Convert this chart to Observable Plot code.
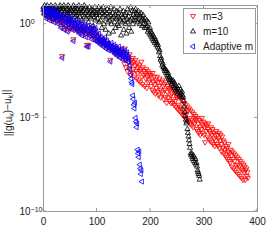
<!DOCTYPE html>
<html><head><meta charset="utf-8">
<script src="https://cdn.jsdelivr.net/npm/d3@7"></script>
<script src="https://cdn.jsdelivr.net/npm/@observablehq/plot@0.6"></script>
<style>body{margin:0;background:#fff} svg{display:block}</style>
</head><body><div id="chart"></div>
<script>
// log10 of ||g(u_k) - u_k|| per iteration k = 0,1,2,...
const m3Log = [
0.8,0.7,0.6,0.9,0.5,0.4,0.7,0.8,0.5,0.8,0.7,0.4,0.3,0.6,0.7,0.5,0.5,0.2,0.6,0.6,0.2,0.5,0.3,0.7,0.3,0.4,0.5,0.2,0.1,0.3,
0.2,0.4,0.2,-0.1,0.3,-1.7,0.1,0.1,0.4,-0.2,0.2,0.0,-0.2,0.3,0.1,-0.3,0.1,0.2,0.0,-0.3,0.1,0.3,-0.2,-0.1,-0.2,0.0,-0.8,0.1,-0.3,-0.1,
-0.2,0.1,-0.2,-0.3,0.0,-0.3,-0.2,-0.4,-0.1,-0.3,-0.2,0.0,-0.5,-0.3,-0.3,-0.2,-0.4,-0.4,-0.1,-0.3,-0.6,-1.1,-0.4,-0.2,-1.1,-0.5,-0.5,-0.3,-0.6,-0.4,-0.7,-0.2,-0.5,-0.5,-0.4,-0.8,-0.6,-0.3,-0.8,-0.5,
-0.7,-0.8,-0.8,-0.9,-0.6,-0.9,-0.8,-1.0,-0.8,-1.0,-0.9,-0.9,-1.1,-1.0,-1.0,-0.8,-1.1,-1.2,-1.0,-1.0,
-1.1,-1.1,-1.3,-1.2,-1.2,-1.9,-1.3,-1.1,-1.3,-1.3,-1.4,-1.4,-1.2,-1.5,-1.5,-1.3,-1.4,-1.4,-1.6,-1.5,
-1.6,-1.3,-1.5,-1.7,-1.5,-1.6,-1.6,-1.4,-1.7,-1.8,
-1.5,-2.1,-1.3,-1.9,-2.3,-1.6,-1.8,-2.5,-1.7,-2.0,-2.4,-1.6,-2.2,-2.7,-1.9,-2.1,-2.6,-1.8,-2.4,-2.0,
-2.8,-2.2,-1.9,-2.5,-2.9,-2.1,-2.6,-2.3,-3.0,-2.2,-2.5,-3.1,-2.4,-2.0,-2.8,-3.2,-2.3,-2.7,-2.5,-3.3,
-2.6,-2.9,-2.4,-3.4,-2.8,-2.5,-3.1,-2.7,-3.0,-2.6,
-2.7,-3.3,-2.9,-3.5,-2.6,-3.1,-3.6,-2.8,-3.2,-3.7,-3.0,-3.4,-2.8,-3.6,-3.1,-3.8,-3.3,-2.9,-3.5,-3.9,
-3.1,-3.6,-3.0,-3.7,-3.3,-4.0,-3.2,-3.5,-3.9,-3.1,-4.2,-3.6,-3.3,-3.9,-3.4,-4.1,-3.5,-3.8,-4.2,-3.4,
-3.7,-4.2,-3.5,-4.0,-4.3,-3.6,-4.1,-4.4,-3.8,-3.9,-4.5,-3.8,-4.3,-4.6,-3.9,-4.4,-4.7,-4.0,-4.5,-4.8,
-4.1,-4.6,-4.9,-4.2,-4.7,-5.0,-4.3,-4.8,-5.1,-4.4,-4.6,-5.2,-4.5,-5.0,-5.3,-4.6,-5.1,-5.4,-4.7,-5.2,
-5.5,-4.8,-5.3,-5.0,-4.9,
-5.1,-5.6,-5.0,-5.7,-5.3,-5.8,-5.1,-5.5,-5.9,-5.2,-5.6,-5.0,-5.8,-5.4,-5.2,-5.9,-5.5,-6.3,-5.3,-5.7,
-5.4,-6.0,-5.6,-5.3,-6.1,-5.7,-6.2,-5.8,-5.5,-6.3,-5.9,-5.6,-6.4,-5.8,-6.1,-6.5,-5.9,-6.2,-5.7,-6.4,
-5.9,-6.5,-6.1,-5.8,-6.6,-6.2,-5.9,-6.4,-6.8,-6.0,-6.6,-6.2,-6.9,-6.3,-6.7,-7.0,
-6.5,-7.1,-6.6,-7.2,-6.8,-6.4,-7.3,-6.9,-7.4,-6.7,-7.0,-7.6,-6.8,-7.2,-7.7,-6.9,-7.3,-7.8,-7.0,-7.5,
-7.9,-7.1,-7.5,-8.0,-7.2,-7.6,-8.1,-7.3,-7.7,-8.2,-7.4,-7.8,-8.3,-7.5,-7.9,-7.6,-8.3,-7.8,-7.7,-8.1,
-7.9,-8.2
];
const m10Log = [
0.9,0.6,1.0,0.8,0.5,0.9,0.7,1.0,0.6,0.8,0.4,0.9,0.7,0.5,1.0,0.8,0.6,0.9,0.3,0.7,0.8,0.5,1.0,0.6,0.9,0.4,0.7,0.8,0.5,0.9,
0.6,1.0,0.8,0.4,0.7,0.9,0.5,0.8,1.0,0.6,0.3,0.7,0.9,0.5,0.8,0.6,1.0,0.4,0.7,0.9,0.6,0.8,0.2,0.7,0.9,0.5,1.0,0.6,0.8,0.4,
0.7,0.9,0.5,0.8,0.3,0.6,1.0,0.7,0.4,0.8,0.6,0.9,0.2,0.7,0.5,0.8,1.0,0.4,0.6,0.9,0.3,0.7,0.8,0.5,0.1,0.6,0.9,0.4,0.7,0.3,
0.8,0.5,0.6,-0.1,0.7,0.4,0.9,0.2,0.6,0.5,
0.8,0.3,0.6,0.9,0.1,0.5,0.7,0.2,0.8,-0.2,0.6,0.4,0.9,0.0,0.5,0.7,-0.3,0.3,0.6,0.8,0.1,0.4,-0.5,0.7,0.2,0.5,0.9,0.0,0.3,0.6,
-0.4,0.4,0.8,0.1,0.5,-0.2,0.3,0.7,0.0,0.4,
0.6,-0.1,0.3,0.8,0.2,-0.6,0.5,0.1,0.4,0.7,-0.3,0.2,0.5,0.0,0.6,-0.5,0.3,0.8,0.1,0.4,-0.2,0.6,0.2,0.9,-0.4,0.3,0.7,0.0,0.5,0.2,
0.7,0.4,0.8,0.2,0.6,0.5,0.1,0.7,0.3,0.5,0.0,0.4,0.6,0.2,-0.1,0.3,0.5,0.0,0.2,-0.2,
0.3,0.0,-0.2,0.2,-0.1,-0.4,0.1,-0.3,-0.5,-0.2,-0.6,-0.4,-0.7,-0.5,-0.8,-0.6,-0.9,-0.7,-1.0,-0.8,-0.9,-1.1,-1.0,-1.2,-1.1,
-1.3,-1.5,-1.4,-1.7,-1.9,-1.8,-2.0,-2.2,-2.1,-2.3,
-2.3,-2.4,-2.5,-2.4,-2.6,-2.5,-2.7,-2.8,-2.6,-2.9,-2.8,-3.0,-2.9,-3.1,-3.0,-3.2,-3.1,
-3.0,-3.3,-3.1,-3.4,-3.2,-3.5,-3.3,-3.6,-3.4,-3.7,-3.5,-3.3,-3.6,-3.8,-3.5,-3.7,-3.9,-3.6,-3.8,-3.9,
-4.1,-4.4,-4.7,-4.9,-5.1,-5.3,-5.2,-5.6,-5.8,-6.0,-6.2,-6.4,-6.6,
-6.9,-7.0,-6.9,-7.1,-7.2,-7.0,-7.3,-7.1,-7.4,-7.2,-7.5,-7.4,-7.6,-7.8,-7.9,-8.0,-8.1,-8.3
];
const adaptiveLog = [
0.7,0.9,0.5,0.8,0.6,0.3,0.8,0.7,0.4,0.9,0.6,0.5,0.2,0.7,0.8,0.4,0.6,0.3,0.7,0.5,0.1,0.6,0.4,0.8,0.2,0.5,0.6,0.3,0.0,0.4,
0.3,0.5,0.1,-0.2,0.4,-1.8,0.2,0.0,0.5,-0.3,0.3,0.1,-0.1,0.4,0.2,-0.4,0.0,0.3,0.1,-0.2,0.2,0.4,-0.1,0.0,-0.3,0.1,-0.9,0.2,-0.2,0.0,
-0.1,0.2,-0.3,-0.2,0.1,-0.4,-0.1,-0.5,0.0,-0.2,-0.3,0.1,-0.6,-0.2,-0.4,-0.1,-0.3,-0.5,0.0,-0.2,-0.7,-1.2,-0.3,-0.1,-1.2,-0.4,-0.6,-0.2,-0.5,-0.3,
-0.8,-0.1,-0.4,-0.6,-0.3,-0.7,-0.5,-0.2,-0.9,-0.4,
-0.6,-0.9,-0.7,-1.0,-0.5,-0.8,-0.9,-1.1,-0.7,-0.9,-1.0,-0.8,-1.2,-0.9,-1.1,-0.7,-1.0,-1.3,-1.1,-0.9,
-1.2,-1.0,-1.4,-1.1,-1.3,-2.0,-1.2,-1.0,-1.4,-1.2,-1.3,-1.5,-1.1,-1.4,-1.6,-1.2,-1.5,-1.3,-1.7,-1.4,
-1.5,-1.2,-1.6,-1.8,-1.4,-1.5,-1.7,-1.3,-1.6,-1.9,-1.5,-1.7,-1.4,-1.8,-1.6,-1.9,-1.5,-1.7,-2.0,-1.8,
-1.9,-2.2,-2.4,-2.7,-2.9,-3.1,-3.2,-3.8,-4.0,-4.3,-4.5,-4.2,-5.0,-5.2,-5.5,-5.3,-6.7,-6.9,-7.1,-6.8,
-7.5,-7.7,-8.0,-7.8,-8.4
];
const seriesNames = ["m=3", "m=10", "Adaptive m"];
const seriesColors = ["#ff0000", "#000000", "#0000ff"];
const xTicks = [0, 100, 200, 300, 400];
const yTicks = [1, 1e-5, 1e-10];

const S3 = Math.sqrt(3);
const triDown = {draw(c, s) { const a = Math.sqrt(s / (3 * S3)); c.moveTo(0, 2 * a); c.lineTo(-S3 * a, -a); c.lineTo(S3 * a, -a); c.closePath(); }};
const triUp = {draw(c, s) { const a = Math.sqrt(s / (3 * S3)); c.moveTo(0, -2 * a); c.lineTo(-S3 * a, a); c.lineTo(S3 * a, a); c.closePath(); }};
const triLeft = {draw(c, s) { const a = Math.sqrt(s / (3 * S3)); c.moveTo(-2 * a, 0); c.lineTo(a, -S3 * a); c.lineTo(a, S3 * a); c.closePath(); }};
const symbolsList = [triDown, triUp, triLeft];

const toPts = (arr) => arr.map((v, i) => ({k: i, r: Math.pow(10, v)}));
const allSeries = [m3Log, m10Log, adaptiveLog].map(toPts);

const FONT = "'Liberation Sans', Arial, Helvetica, sans-serif";
const R = 1.9;

const plot = Plot.plot({
  width: 269, height: 240,
  marginLeft: 43, marginRight: 12, marginTop: 5, marginBottom: 29,
  style: {fontFamily: FONT, fontSize: "10px", color: "#222", background: "#fff", overflow: "visible"},
  x: {domain: [0, 400]},
  y: {type: "log", domain: [1e-10, 10]},
  marks: [
    ...allSeries.map((pts, i) => Plot.dot(pts, {x: "k", y: "r", symbol: symbolsList[i], r: R, stroke: seriesColors[i], strokeWidth: 0.8, fill: "none"})),
    Plot.frame({stroke: "#999"}),
    Plot.axisX({ticks: xTicks, tickSize: 0, tickPadding: 6, label: null, tickFormat: d => String(d)}),
    Plot.axisY({ticks: yTicks, tickSize: 0, tickPadding: 24, textAnchor: "start", label: null,
      tickFormat: d => "10^" + Math.round(Math.log10(d))})
  ]
});
document.getElementById("chart").appendChild(plot);

const svg = d3.select(plot);
const sx = plot.scale("x"), sy = plot.scale("y");
const x0 = 43, x1 = 269 - 12, y0 = 5, y1 = 240 - 29;

// superscript exponents on y tick labels
svg.selectAll('g[aria-label="y-axis tick label"] text').each(function() {
  const t = d3.select(this);
  const parts = t.text().split("^");
  if (parts.length !== 2) return;
  t.text(parts[0]);
  t.append("tspan").attr("dy", "-0.45em").attr("font-size", "7px").text(parts[1].replace("-", "\u2212"));
});

// inward ticks on all four sides
const tg = svg.append("g").attr("stroke", "#999").attr("stroke-width", 1);
xTicks.forEach(v => {
  const px = sx.apply(v);
  tg.append("line").attr("x1", px).attr("x2", px).attr("y1", y1).attr("y2", y1 - 3);
  tg.append("line").attr("x1", px).attr("x2", px).attr("y1", y0).attr("y2", y0 + 3);
});
yTicks.forEach(v => {
  const py = sy.apply(v);
  tg.append("line").attr("x1", x0).attr("x2", x0 + 3).attr("y1", py).attr("y2", py);
  tg.append("line").attr("x1", x1).attr("x2", x1 - 3).attr("y1", py).attr("y2", py);
});

// y axis title with subscripts
const yl = svg.append("text").attr("transform", "translate(12,113) rotate(-90)")
  .attr("text-anchor", "middle").attr("font-family", FONT).attr("font-size", "10px").attr("fill", "#222");
yl.append("tspan").text("||g(u");
yl.append("tspan").attr("dy", "0.3em").attr("font-size", "7px").text("k");
yl.append("tspan").attr("dy", "-0.3em").text(")\u2212u");
yl.append("tspan").attr("dy", "0.3em").attr("font-size", "7px").text("k");
yl.append("tspan").attr("dy", "-0.3em").text("||");

// legend
const lg = svg.append("g").attr("text-anchor", "start");
lg.append("rect").attr("x", 183.5).attr("y", 8.5).attr("width", 72).attr("height", 45)
  .attr("fill", "#fff").attr("stroke", "#999");
const rowsY = [16, 31.5, 46.5];
seriesNames.forEach((name, i) => {
  lg.append("path").attr("transform", `translate(193,${rowsY[i]})`)
    .attr("d", d3.symbol(symbolsList[i], Math.PI * R * R)())
    .attr("fill", "none").attr("stroke", seriesColors[i]).attr("stroke-width", 0.8);
  lg.append("text").attr("x", 203).attr("y", rowsY[i]).attr("dy", "0.35em").attr("text-anchor", "start")
    .attr("font-family", FONT).attr("font-size", "10px").attr("fill", "#222").text(name);
});
</script>
</body></html>
